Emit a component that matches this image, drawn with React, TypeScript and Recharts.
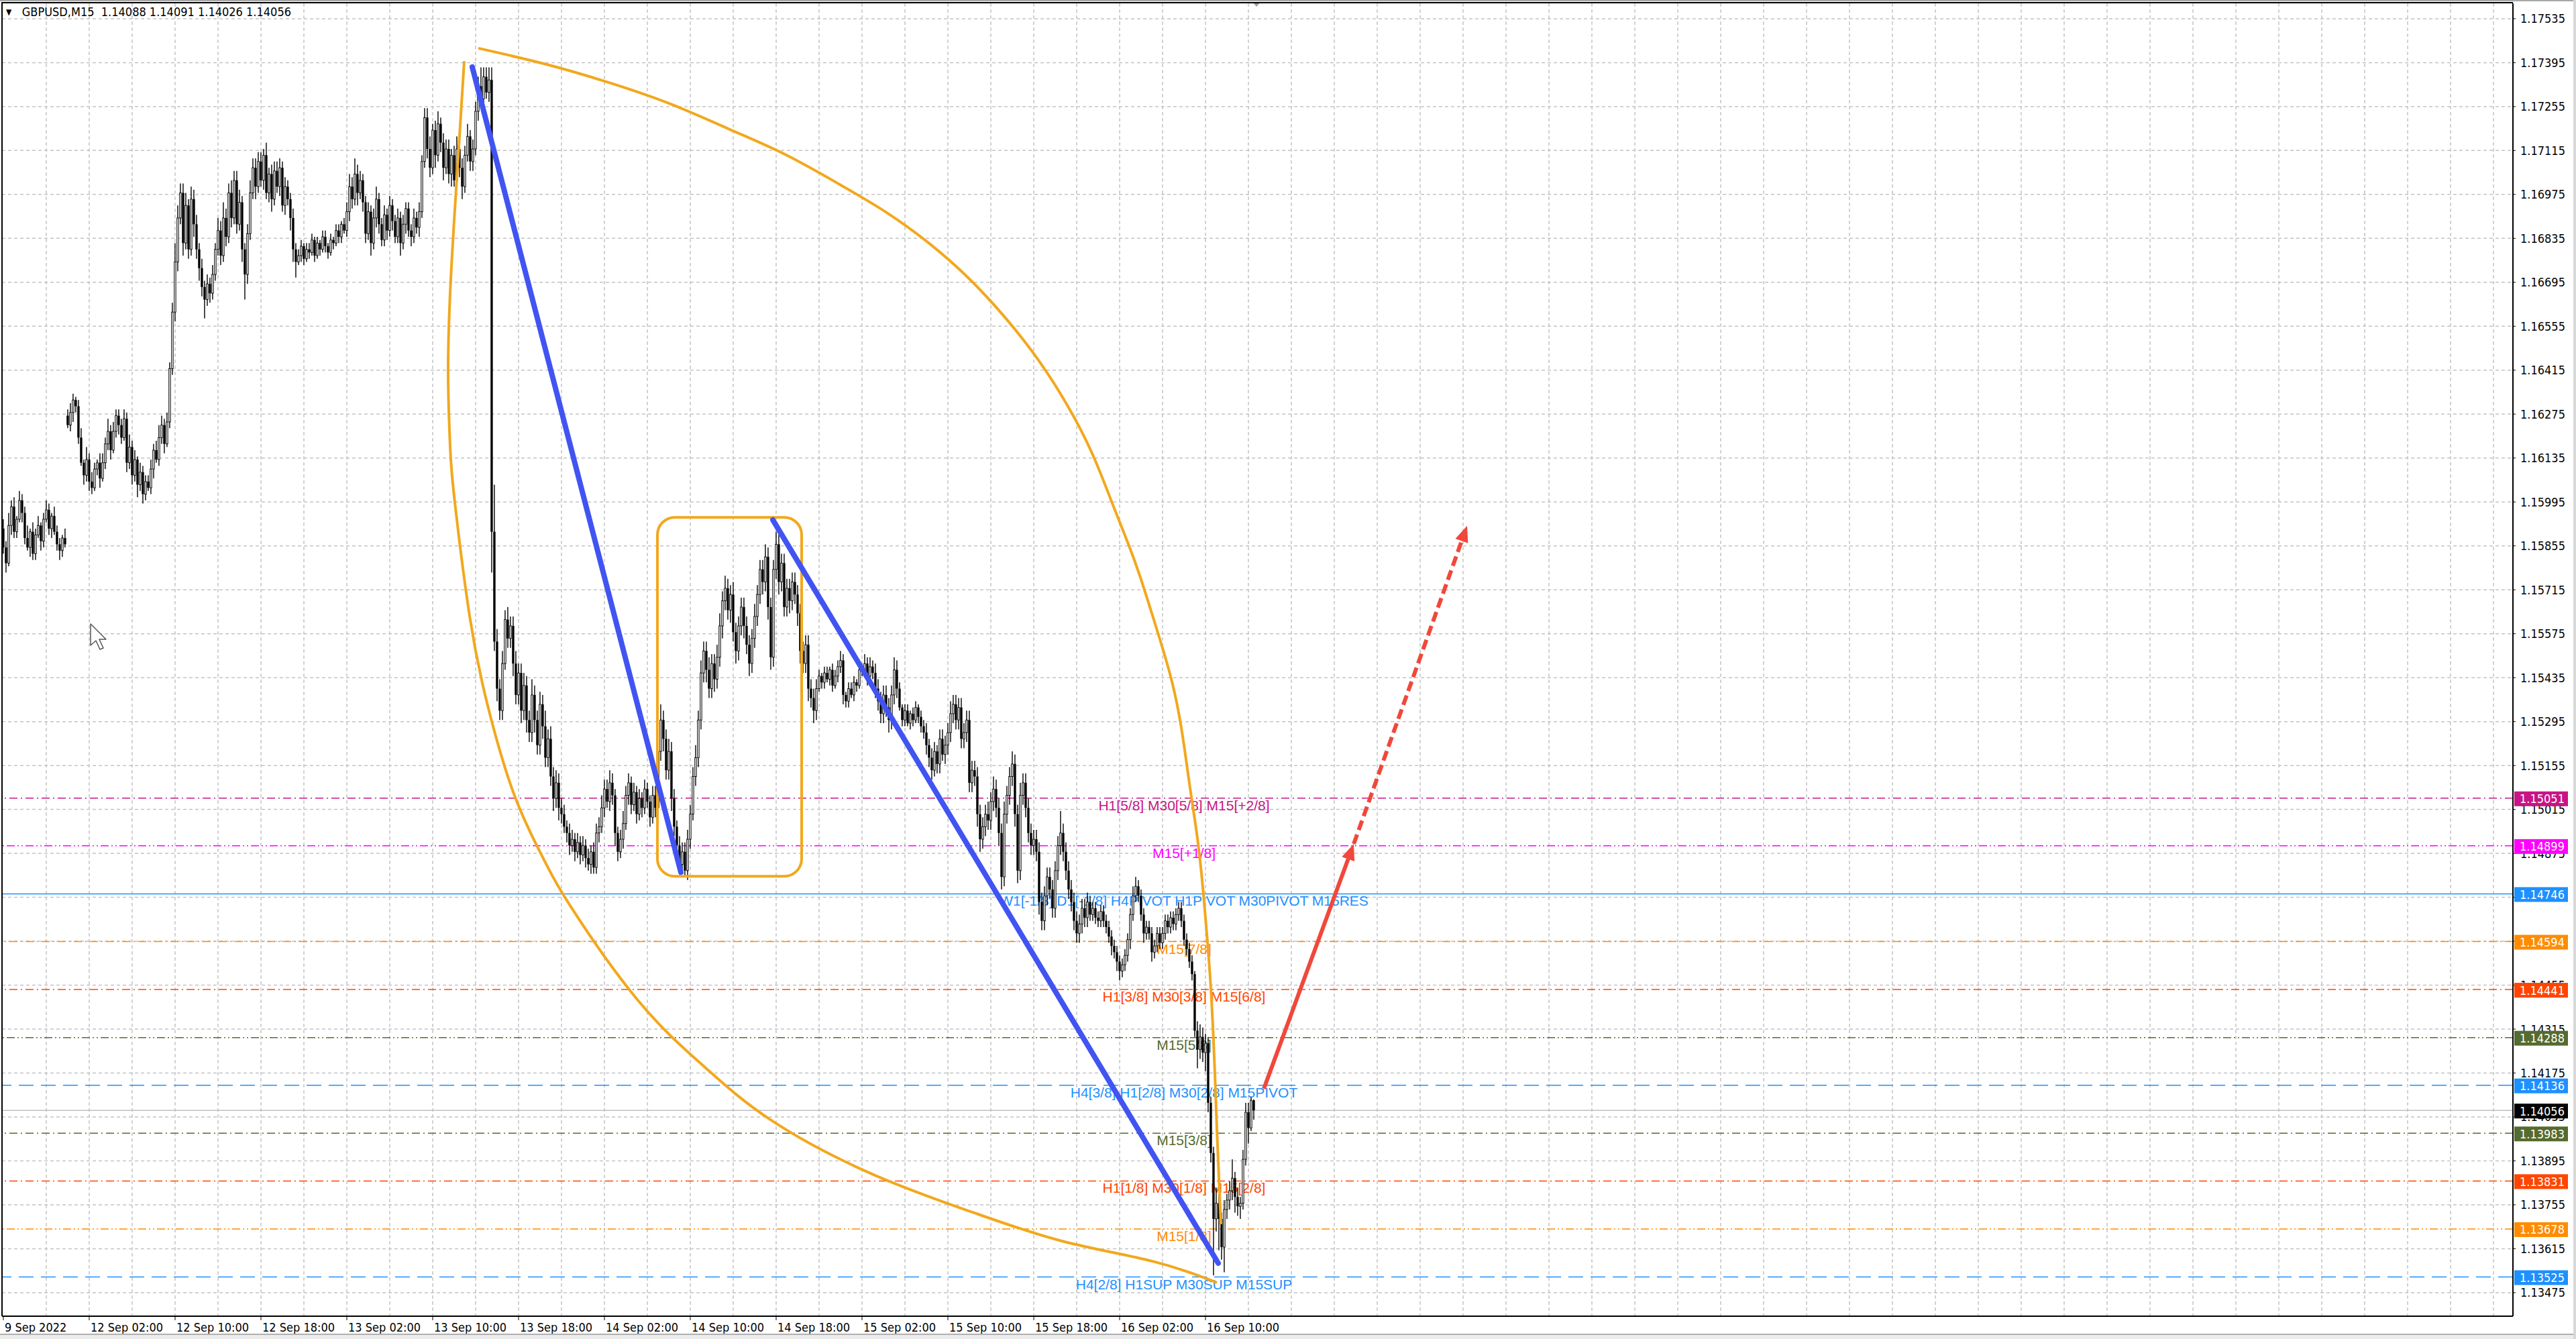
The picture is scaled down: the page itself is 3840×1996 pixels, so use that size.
import React from 'react';
import {
  ComposedChart,
  Bar,
  Line,
  XAxis,
  YAxis,
  CartesianGrid,
  ReferenceLine,
  ReferenceArea,
  ReferenceDot,
} from 'recharts';

// GBPUSD M15 closes, 9 Sep 2022 18:00 .. 16 Sep 2022 14:30 (price x 10000)
const closes = [
  // 9 Sep
  11585, 11580, 11592, 11598, 11590, 11594, 11600, 11596, 11588, 11585, 11590, 11583,
  11589, 11592, 11587, 11594, 11597, 11591, 11595, 11590, 11586, 11584, 11588, 11586,
  // 12 Sep
  11624, 11628, 11632, 11630,
  11620, 11612, 11608, 11613, 11606, 11604, 11610, 11612, 11607,
  11612, 11618, 11622, 11616, 11622, 11627, 11624,
  11620, 11626, 11612, 11617, 11608, 11613, 11605, 11609, 11602, 11606,
  11604, 11610, 11616, 11613, 11620, 11624, 11618, 11625,
  11642, 11660, 11676,
  11690, 11698, 11682, 11694, 11680, 11696, 11688,
  11680, 11674, 11668, 11664, 11669, 11666, 11672,
  11680, 11686, 11678, 11690, 11684,
  11698, 11690, 11702, 11688, 11695, 11680,
  11672,
  11685, 11698, 11706, 11700, 11708,
  11702, 11710, 11698, 11704, 11696, 11705,
  11700, 11706, 11694, 11700, 11696, 11690,
  11680, 11676,
  11678, 11681, 11677, 11680, 11679, 11683, 11678, 11682, 11680, 11684, 11681, 11679,
  11683, 11682, 11686, 11684, 11688, 11686,
  // 13 Sep
  11692, 11700, 11696, 11704, 11698, 11702, 11695,
  11685, 11692, 11682, 11690, 11696, 11688, 11683, 11691, 11686, 11694, 11689, 11684,
  11690, 11682, 11688, 11693, 11686, 11684, 11690, 11687, 11692,
  11708, 11722,
  11712, 11706, 11718, 11710, 11720, 11714, 11706, 11712,
  11704, 11710, 11702, 11712, 11706, 11700, 11710, 11716, 11708, 11712,
  11724, 11732, 11728, 11735, 11730, 11734,
  11590,
  11555, 11540, 11533,
  11548, 11562, 11556,
  11560, 11548, 11538, 11545,
  11533, 11541, 11530, 11526, 11538, 11530, 11522, 11535, 11528, 11518, 11524,
  11512, 11505, 11510, 11502,
  // 14 Sep
  11500, 11496, 11494, 11490, 11492, 11488, 11491, 11487, 11490, 11486, 11484, 11488, 11483, 11494,
  11496, 11502, 11508, 11504, 11510, 11506, 11494, 11488, 11492, 11497, 11506, 11510,
  11503, 11507, 11500, 11505, 11502, 11508, 11504, 11499, 11506, 11502,
  11520, 11530, 11524, 11514, 11520, 11505, 11496, 11490, 11484,
  11488, 11482, 11492, 11500, 11512, 11518,
  11530, 11545, 11552, 11546, 11540, 11548, 11543, 11550,
  11560, 11568, 11572, 11565, 11570, 11558, 11552, 11560,
  11566, 11560, 11554, 11548, 11556, 11563, 11570, 11578, 11574, 11582, 11566, 11550,
  11578, 11586, 11574, 11580,
  11566, 11572, 11568, 11574, 11570, 11564,
  11552, 11548, 11554, 11540, 11537, 11533, 11540,
  11544, 11542, 11545, 11543, 11546, 11541, 11544, 11547, 11549, 11538, 11536, 11540,
  11538, 11542, 11541, 11546,
  // 15 Sep
  11546, 11548, 11544, 11547, 11545,
  11540, 11536, 11532, 11538, 11534, 11530,
  11538, 11546, 11540,
  11534, 11530, 11533, 11529, 11532, 11530, 11534, 11531, 11528, 11526,
  11522, 11518, 11514, 11520, 11516, 11524, 11519,
  11522, 11526, 11532, 11535, 11530, 11534, 11524, 11526, 11530,
  11510, 11514, 11512, 11500, 11492, 11496, 11500,
  11498, 11504, 11508, 11502, 11494, 11480, 11500,
  11506, 11512, 11516, 11500, 11482, 11506, 11510, 11502, 11494, 11490, 11492,
  11488, 11472, 11466, 11474, 11480, 11476, 11470,
  11482, 11490, 11494, 11488, 11482, 11476,
  11472, 11466, 11462, 11465, 11470, 11467, 11472,
  // 16 Sep
  11468, 11470, 11467, 11466, 11469, 11466, 11464, 11461, 11458,
  11456, 11453, 11450, 11452, 11455, 11460,
  11468, 11474, 11477, 11474, 11468, 11462,
  11464, 11462, 11456, 11458, 11462, 11459,
  11462, 11466, 11464, 11467, 11465, 11468, 11470, 11466, 11460,
  11457, 11453, 11449,
  11431, 11425, 11429, 11424, 11427, 11408, 11392, 11371,
  11376, 11371, 11362, 11374, 11377, 11380, 11384,
  11378, 11375, 11376, 11390, 11405, 11400, 11408.8, 11405.6,
];

// wick length above the body, pips
const upWicks = [
  3, 2, 4, 2, 3, 1, 3, 2, 2, 4, 1, 3, 2, 3, 1, 2, 3, 2, 1, 3, 2, 2, 1, 3,
  2, 3, 2, 1,
  2, 3, 1, 4, 2, 3, 2, 1, 3,
  3, 2, 4, 2, 3, 2, 2,
  2, 3, 2, 4, 2, 3, 1, 3, 2, 2,
  2, 3, 2, 3, 4, 3, 2, 3,
  2, 3, 6,
  4, 3, 3, 4, 2, 4, 3,
  3, 2, 3, 2, 3, 2, 3,
  2, 4, 3, 5, 3,
  3, 4, 3, 3, 4, 2,
  2,
  3, 4, 3, 3, 3,
  3, 2, 4, 2, 3, 3,
  3, 3, 2, 3, 2, 2,
  3, 2,
  2, 2, 1, 2, 2, 2, 1, 2, 1, 2, 2, 1, 2, 1, 2, 2, 1, 2,
  3, 4, 3, 5, 3, 3, 2,
  2, 3, 2, 3, 4, 2, 2, 3, 2, 3, 2, 2, 3, 2, 3, 2, 2, 2, 3, 2, 3,
  2, 3,
  3, 4, 2, 3, 4, 2, 3, 3,
  3, 2, 3, 4, 2, 3, 3, 4, 2, 3,
  3, 3, 6, 3, 3, 4,
  4,
  15, 4, 3,
  4, 3, 4,
  3, 3, 4, 3,
  3, 4, 3, 3, 5, 3, 3, 4, 3, 5, 3,
  4, 3, 4, 3,
  3, 3, 2, 3, 3, 2, 3, 2, 3, 2, 3, 2, 3, 3,
  3, 4, 3, 3, 4, 3, 2, 2, 3, 4, 3, 3, 2, 3, 2, 3, 2, 3, 2, 2, 3, 3,
  4, 5, 3, 3, 4, 3, 3, 2, 3,
  3, 3, 3, 3, 3, 4,
  3, 4, 3, 3, 4, 3, 3, 4,
  4, 3, 4, 3, 3, 4, 3, 3,
  3, 3, 3, 3, 3, 4, 3, 3, 3, 4, 3, 3,
  3, 4, 3, 3,
  3, 3, 3, 3, 3, 3,
  3, 3, 3, 3, 3, 3, 3,
  2, 1, 2, 2, 1, 2, 2, 2, 3, 2, 1, 2, 2, 2, 1, 2,
  2, 3, 2, 3, 2,
  3, 3, 3, 3, 3, 3,
  3, 4, 3,
  2, 1, 2, 2, 1, 2, 2, 1, 2, 2,
  3, 2, 3, 3, 2, 3, 3,
  3, 3, 4, 3, 3, 3, 3, 3, 3,
  3, 3, 3, 3, 3, 3, 3,
  4, 3, 4, 3, 3, 3, 4,
  3, 3, 4, 3, 3, 4, 3, 3, 3, 3, 3,
  3, 3, 3, 3, 3, 3, 3,
  3, 3, 7, 3, 3, 3,
  3, 3, 3, 3, 3, 3, 3,
  2, 2, 2, 2, 2, 2, 2, 2, 2,
  2, 2, 2, 2, 2, 2,
  2, 3, 3, 2, 2, 2,
  2, 2, 2, 2, 2, 2,
  2, 2, 2, 2, 2, 2, 2, 2, 2,
  2, 2, 2,
  1, 3, 4, 3, 3, 2, 2, 2,
  5, 6, 2, 3, 2, 3, 6,
  2, 3, 2, 3, 3, 3, 1, 0.3,
];

// wick length below the body, pips
const downWicks = [
  2, 3, 1, 3, 2, 2, 1, 3, 2, 1, 3, 2, 2, 1, 3, 2, 1, 2, 3, 1, 2, 3, 2, 1,
  1, 2, 3, 2,
  2, 1, 3, 2, 3, 2, 1, 2, 3,
  1, 2, 2, 3, 1, 2, 3,
  2, 1, 3, 2, 3, 2, 4, 2, 3, 2,
  1, 2, 3, 1, 2, 2, 3, 1,
  2, 2, 3,
  3, 2, 4, 2, 3, 2, 4,
  3, 4, 3, 6, 2, 3, 2,
  2, 2, 3, 2, 3,
  2, 3, 2, 3, 2, 4,
  8,
  3, 2, 2, 4, 2,
  2, 3, 2, 3, 4, 2,
  2, 3, 2, 3, 2, 4,
  4, 5,
  1, 2, 2, 1, 2, 1, 2, 1, 2, 1, 2, 2, 1, 2, 1, 2, 2, 1,
  2, 3, 3, 2, 4, 2, 3,
  3, 2, 4, 2, 3, 3, 2, 2, 3, 2, 3, 2, 2, 4, 2, 3, 2, 3, 2, 2, 3,
  2, 2,
  3, 3, 2, 4, 2, 3, 4, 2,
  3, 4, 2, 3, 3, 4, 2, 2, 3, 3,
  2, 3, 2, 3, 2, 3,
  13,
  3, 4, 3,
  3, 2, 3,
  3, 4, 3, 3,
  4, 3, 4, 3, 3, 4, 3, 3, 4, 3, 3,
  3, 4, 3, 4,
  3, 2, 3, 3, 2, 3, 2, 3, 2, 3, 2, 3, 2, 2,
  3, 2, 3, 2, 3, 3, 4, 3, 2, 3, 2, 3, 3, 2, 3, 2, 3, 2, 2, 3, 2, 3,
  3, 3, 4, 3, 3, 4, 3, 4, 3,
  3, 2, 3, 3, 2, 3,
  3, 3, 3, 4, 3, 3, 4, 3,
  3, 4, 3, 3, 4, 3, 4, 3,
  3, 4, 3, 4, 3, 3, 3, 3, 4, 3, 4, 4,
  3, 3, 4, 3,
  3, 3, 4, 3, 3, 4,
  4, 3, 3, 4, 3, 4, 3,
  1, 2, 2, 1, 2, 2, 1, 2, 2, 3, 2, 2, 1, 2, 2, 1,
  2, 2, 3, 2, 2,
  3, 3, 3, 3, 3, 4,
  3, 3, 3,
  1, 2, 2, 1, 2, 2, 1, 2, 2, 2,
  3, 3, 3, 2, 3, 3, 2,
  3, 3, 3, 3, 3, 3, 3, 3, 3,
  3, 3, 3, 4, 4, 3, 3,
  3, 3, 3, 3, 4, 4, 3,
  3, 3, 3, 4, 4, 3, 3, 3, 3, 3, 3,
  3, 4, 3, 3, 3, 3, 3,
  3, 3, 3, 3, 3, 3,
  3, 3, 3, 3, 3, 3, 3,
  2, 2, 2, 2, 2, 2, 2, 2, 3,
  2, 3, 3, 2, 2, 2,
  3, 2, 2, 2, 2, 3,
  2, 2, 3, 2, 2, 2,
  2, 2, 2, 2, 2, 2, 2, 2, 2,
  2, 2, 2,
  2, 6, 3, 3, 6, 3, 3, 18,
  4, 10, 4, 8, 3, 3, 3,
  5, 3, 4, 2, 2, 5, 1, 3,
];

// bars that did not open at the previous close: [bar, open]
const gapOpens: [number, number][] = [
  [0, 11591],
  [24, 11627],
];

const timeTicks = [0, 32, 64, 96, 128, 160, 192, 224, 256, 288, 320, 352, 384, 416, 448];
const timeLabels = [
  '9 Sep 2022', '12 Sep 02:00', '12 Sep 10:00', '12 Sep 18:00', '13 Sep 02:00',
  '13 Sep 10:00', '13 Sep 18:00', '14 Sep 02:00', '14 Sep 10:00', '14 Sep 18:00',
  '15 Sep 02:00', '15 Sep 10:00', '15 Sep 18:00', '16 Sep 02:00', '16 Sep 10:00',
];
const priceTicks = [
  1.13475, 1.13615, 1.13755, 1.13895, 1.14035, 1.14175, 1.14315, 1.14455, 1.14595, 1.14735,
  1.14875, 1.15015, 1.15155, 1.15295, 1.15435, 1.15575, 1.15715, 1.15855, 1.15995, 1.16135,
  1.16275, 1.16415, 1.16555, 1.16695, 1.16835, 1.16975, 1.17115, 1.17255, 1.17395, 1.17535,
];

// Murrey math levels
const levelPrices = [
  1.15051, 1.14899, 1.14746, 1.14594, 1.14441, 1.14288, 1.14136, 1.13983, 1.13831, 1.13678, 1.13525,
];
const levelTexts = [
  'H1[5/8] M30[5/8] M15[+2/8]',
  'M15[+1/8]',
  'W1[-1/8] D1[-1/8] H4PIVOT H1PIVOT M30PIVOT M15RES',
  'M15[7/8]',
  'H1[3/8] M30[3/8] M15[6/8]',
  'M15[5/8]',
  'H4[3/8] H1[2/8] M30[2/8] M15PIVOT',
  'M15[3/8]',
  'H1[1/8] M30[1/8] M15[2/8]',
  'M15[1/8]',
  'H4[2/8] H1SUP M30SUP M15SUP',
];
const levelTextBar = 440;

// hand drawn objects, in [bar, price]
const trendLines: [number, number, number, number][] = [
  [174.75, 1.17381, 252.5, 1.14815],
  [286.75, 1.15938, 452.75, 1.13569],
];
const arcOuter: [number, number][] = [
  [177, 1.17441], [201.25, 1.17392], [225.5, 1.17332], [248.75, 1.17263], [270.25, 1.17184],
  [291.25, 1.17103], [311.25, 1.17009], [328.5, 1.16921], [344.75, 1.16821], [359.75, 1.16708],
  [373.5, 1.16581], [385.75, 1.16447], [396.6, 1.16302], [405.75, 1.1615], [413.25, 1.15991],
  [419.25, 1.15861], [423.75, 1.15754], [430, 1.15585], [435.25, 1.15431], [439, 1.15275],
  [442, 1.15098], [444.5, 1.14954], [446.5, 1.14811], [448.25, 1.14644], [449.75, 1.14478],
  [450.75, 1.14324], [451.5, 1.14174], [452.25, 1.13996], [453, 1.13842], [453.75, 1.13693],
];
const arcInner: [number, number][] = [
  [171.75, 1.174], [169.75, 1.17127], [167, 1.16746], [165.75, 1.16412], [166.5, 1.16173],
  [168, 1.16013], [173.75, 1.15632], [180.5, 1.15346], [190.5, 1.15059], [201.75, 1.1485],
  [211.25, 1.14708], [236.25, 1.14409], [261.25, 1.14195], [286.25, 1.14024], [323.75, 1.13853],
  [361.25, 1.13731], [394.75, 1.13639], [428.25, 1.13575], [452.25, 1.13507],
];
const boxCorners = { bar1: 243.75, bar2: 297.5, low: 1.14802, high: 1.15946 };
const forecastSolid: [number, number, number, number] = [469.75, 1.14125, 503.25, 1.14905];
const forecastDashed: [number, number, number, number] = [503.25, 1.14905, 545.5, 1.15919];

// ---------- styles ----------
const levelStyles = [
  { color: '#C71585', dash: '12 5 2 5' },
  { color: '#FF00FF', dash: '12 4 2 4 2 4' },
  { color: '#1E90FF', dash: undefined },
  { color: '#FF8C00', dash: '12 5 2 5' },
  { color: '#FF4500', dash: '12 5 2 5' },
  { color: '#556B2F', dash: '12 4 2 4 2 4' },
  { color: '#1E90FF', dash: '22 11' },
  { color: '#556B2F', dash: '12 5 2 5' },
  { color: '#FF4500', dash: '12 5 2 5' },
  { color: '#FF8C00', dash: '12 4 2 4 2 4' },
  { color: '#1E90FF', dash: '22 11' },
];
const UI_FONT = "'DejaVu Sans Condensed', 'DejaVu Sans', sans-serif";
const LABEL_FONT = "'Liberation Sans', Arial, sans-serif";
const ORANGE = '#F2A81D';
const BLUE = '#4154F1';
const RED = '#F0483B';

const candles = closes.map((c, i) => {
  const gap = gapOpens.find((g) => g[0] === i);
  const o = gap ? gap[1] : closes[i - 1];
  const high = (Math.max(o, c) + (upWicks[i] ?? 2)) / 10000;
  const low = (Math.min(o, c) - (downWicks[i] ?? 2)) / 10000;
  return { i, open: o / 10000, close: c / 10000, high, low, range: [low, high] };
});
const last = candles[candles.length - 1];

const gridBars: number[] = [];
for (let b = 16; b <= 928; b += 16) gridBars.push(b);

const toPts = (pts: [number, number][]) => pts.map(([i, p]) => ({ i, p }));

function Candle(props: any) {
  const { x, y, width, height, payload } = props;
  if (!payload || x == null || y == null) return null;
  const cx = x + width / 2;
  const span = payload.high - payload.low;
  const k = span > 0 ? height / span : 0;
  const py = (p: number) => y + (payload.high - p) * k;
  const top = py(Math.max(payload.open, payload.close));
  const bot = py(Math.min(payload.open, payload.close));
  const bull = payload.close >= payload.open;
  return (
    <g>
      <rect x={cx - 0.7} y={y} width={1.4} height={Math.max(height, 1)} fill="#000" />
      {bull ? (
        <rect x={cx - 1.2} y={top} width={2.4} height={Math.max(bot - top, 0.6)} fill="#fff" stroke="#000" strokeWidth={1} />
      ) : (
        <rect x={cx - 1.7} y={top} width={3.4} height={Math.max(bot - top, 1.2)} fill="#000" />
      )}
    </g>
  );
}

function TimeTick(props: any) {
  const { x, y, payload } = props;
  const idx = timeTicks.indexOf(payload.value);
  return (
    <text x={x + 2} y={y + 15} fontFamily={UI_FONT} fontSize={18} fill="#000" textAnchor="start">
      {timeLabels[idx]}
    </text>
  );
}

function PriceTick(props: any) {
  const { x, y, payload } = props;
  return (
    <text x={x} y={y} dy="0.36em" fontFamily={UI_FONT} fontSize={18} fill="#000" textAnchor="start">
      {Number(payload.value).toFixed(5)}
    </text>
  );
}

// coloured price box on the right scale
const priceTag = (price: number, color: string) => (p: any) => {
  const vb = p.viewBox || {};
  const x = vb.x + vb.width + 2;
  const y = vb.y;
  return (
    <g>
      <rect x={x} y={y - 10} width={80} height={22} fill={color} />
      <text x={x + 8} y={y + 1} dy="0.36em" fontFamily={UI_FONT} fontSize={18} fill="#fff">
        {price.toFixed(5)}
      </text>
    </g>
  );
};

const levelText = (text: string, color: string) => (p: any) => (
  <text x={p.cx} y={p.cy + 18} textAnchor="middle" fontFamily={LABEL_FONT} fontSize={21} fill={color}>
    {text}
  </text>
);

const thickLine = (color: string, width: number) => (p: any) => (
  <line x1={p.x1} y1={p.y1} x2={p.x2} y2={p.y2} stroke={color} strokeWidth={width} strokeLinecap="round" />
);

const arrowLine = (color: string, width: number, dash?: string) => (p: any) => {
  const { x1, y1, x2, y2 } = p;
  const a = Math.atan2(y2 - y1, x2 - x1);
  const len = 24;
  const half = 10;
  const bx = x2 - len * Math.cos(a);
  const by = y2 - len * Math.sin(a);
  const nx = -Math.sin(a) * half;
  const ny = Math.cos(a) * half;
  return (
    <g>
      <line x1={x1} y1={y1} x2={bx} y2={by} stroke={color} strokeWidth={width} strokeDasharray={dash} />
      <polygon points={`${x2},${y2} ${bx + nx},${by + ny} ${bx - nx},${by - ny}`} fill={color} />
    </g>
  );
};

const roundBox = (p: any) => (
  <rect x={p.x} y={p.y} width={p.width} height={p.height} rx={26} ry={26} fill="none" stroke={ORANGE} strokeWidth={4} />
);

const shiftMark = (p: any) => (
  <polygon points={`${p.cx - 6},${p.cy - 2} ${p.cx + 6},${p.cy - 2} ${p.cx},${p.cy + 5}`} fill="#9a9a9a" />
);

export default function App() {
  const fmt = (v: number) => v.toFixed(5);
  return (
    <div style={{ position: 'absolute', left: 0, top: 0, width: 3840, height: 1996, background: '#fff', overflow: 'hidden' }}>
      <ComposedChart width={3840} height={1996} data={candles} margin={{ top: 5, right: 0, bottom: 0, left: 3 }}>
        <CartesianGrid
          stroke="#c4c4c4"
          strokeDasharray="5 4"
          strokeWidth={1.5}
          horizontalValues={priceTicks}
          verticalValues={gridBars}
        />
        <XAxis
          type="number"
          dataKey="i"
          domain={[-0.5, 935.25]}
          allowDataOverflow
          ticks={timeTicks}
          interval={0}
          height={34}
          tickSize={6}
          tickMargin={2}
          tick={<TimeTick />}
          tickLine={{ stroke: '#000' }}
          axisLine={{ stroke: '#000', strokeWidth: 2 }}
        />
        <YAxis
          type="number"
          orientation="right"
          domain={[1.134, 1.17584]}
          allowDataOverflow
          ticks={priceTicks}
          interval={0}
          width={94}
          tickSize={4}
          tickMargin={7}
          tick={<PriceTick />}
          tickLine={{ stroke: '#000' }}
          axisLine={{ stroke: '#000', strokeWidth: 2 }}
        />

        {levelPrices.map((price, k) => (
          <ReferenceLine
            key={`lvl-${k}`}
            y={price}
            stroke={levelStyles[k].color}
            strokeWidth={1.5}
            strokeDasharray={levelStyles[k].dash}
            zIndex={-50}
          />
        ))}
        <ReferenceLine y={last.close} stroke="#c0c0c0" strokeWidth={1.5} zIndex={-50} />
        {levelPrices.map((price, k) => (
          <ReferenceDot
            key={`txt-${k}`}
            x={levelTextBar}
            y={price}
            r={0}
            shape={levelText(levelTexts[k], levelStyles[k].color)}
            zIndex={-40}
          />
        ))}
        <ReferenceDot x={467} y={1.17584} r={0} shape={shiftMark} />

        <Bar dataKey="range" barSize={3} shape={<Candle />} isAnimationActive={false} />

        <Line data={toPts(arcOuter)} dataKey="p" type="natural" stroke={ORANGE} strokeWidth={4} dot={false} activeDot={false} isAnimationActive={false} legendType="none" />
        <Line data={toPts(arcInner)} dataKey="p" type="natural" stroke={ORANGE} strokeWidth={4} dot={false} activeDot={false} isAnimationActive={false} legendType="none" />
        <ReferenceArea
          x1={boxCorners.bar1}
          x2={boxCorners.bar2}
          y1={boxCorners.low}
          y2={boxCorners.high}
          shape={roundBox}
          zIndex={440}
        />
        {trendLines.map(([b1, p1, b2, p2], k) => (
          <ReferenceLine
            key={`tl-${k}`}
            segment={[{ x: b1, y: p1 }, { x: b2, y: p2 }]}
            shape={thickLine(BLUE, 8)}
            zIndex={450}
          />
        ))}
        <ReferenceLine
          segment={[{ x: forecastSolid[0], y: forecastSolid[1] }, { x: forecastSolid[2], y: forecastSolid[3] }]}
          shape={arrowLine(RED, 6)}
          zIndex={460}
        />
        <ReferenceLine
          segment={[{ x: forecastDashed[0], y: forecastDashed[1] }, { x: forecastDashed[2], y: forecastDashed[3] }]}
          shape={arrowLine(RED, 6, '15 7')}
          zIndex={460}
        />

        {/* price boxes sit on top of the scale labels */}
        {levelPrices.map((price, k) => (
          <ReferenceLine
            key={`tag-${k}`}
            y={price}
            stroke="none"
            label={priceTag(price, levelStyles[k].color)}
            zIndex={3000}
          />
        ))}
        <ReferenceLine y={last.close} stroke="none" label={priceTag(last.close, '#000')} zIndex={3000} />
      </ComposedChart>

      {/* chart frame */}
      <div style={{ position: 'absolute', left: 2, top: 3, width: 3744, height: 1959, borderLeft: '2px solid #000', borderTop: '2px solid #000', boxSizing: 'border-box', pointerEvents: 'none' }} />
      <div style={{ position: 'absolute', left: 0, top: 0, width: 3840, height: 2, background: '#a8a8a8' }} />
      <div style={{ position: 'absolute', left: 0, top: 1988, width: 3840, height: 8, background: '#ececec', borderTop: '2px solid #b0b0b0', boxSizing: 'border-box' }} />
      <div style={{ position: 'absolute', left: 3836, top: 0, width: 4, height: 1996, background: '#d8d8d8' }} />

      {/* mouse pointer */}
      <svg style={{ position: 'absolute', left: 133, top: 928 }} width={28} height={44}>
        <polygon points="2,2 2,34 10,27 16,40 21,38 15,25 25,25" fill="#fff" stroke="#555" strokeWidth={1.5} strokeLinejoin="round" />
      </svg>

      <div style={{ position: 'absolute', left: 9, top: 7, fontFamily: UI_FONT, fontSize: 18, color: '#000', whiteSpace: 'pre', lineHeight: '22px' }}>
        <span style={{ fontSize: 12, verticalAlign: 2 }}>▼</span>
        {'   GBPUSD,M15  '}
        {`${fmt(last.open)} ${fmt(last.high)} ${fmt(last.low)} ${fmt(last.close)}`}
      </div>
    </div>
  );
}
